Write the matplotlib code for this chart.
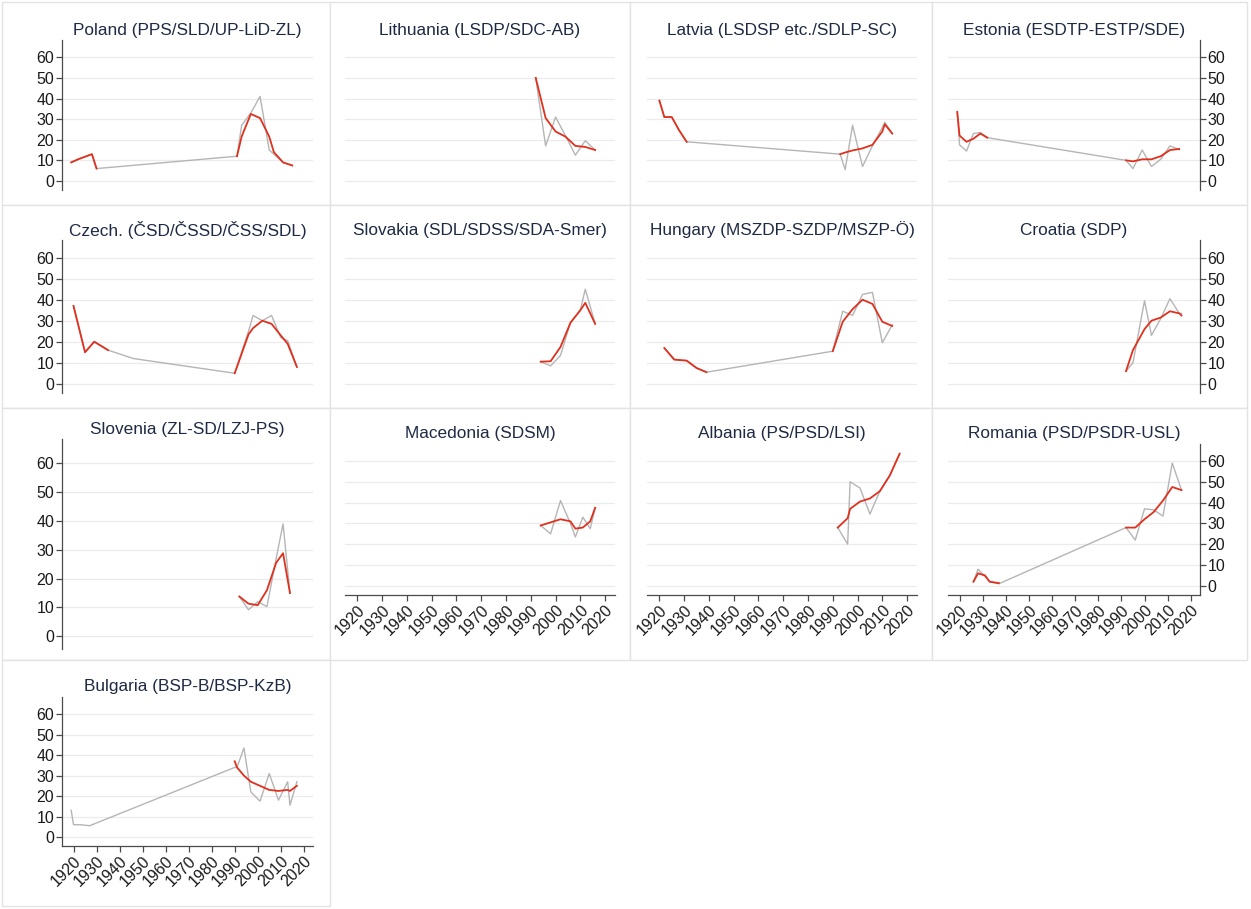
import numpy as np
import matplotlib
matplotlib.use("Agg")
import matplotlib.pyplot as plt
from matplotlib.patches import Rectangle

# line colours
stata_red = "#e0301e"
light_gray = "#b5b5b5"
grid_gray = "#ebebeb"
axis_gray = "#4a4a4a"
title_navy = "#1e2a44"

plt.rcParams["font.family"] = ["Liberation Sans", "DejaVu Sans"]

# vote share (gray) and smoothed share (red), by election year
poland_years = [1919, 1922, 1928, 1930, 1991, 1993, 1997, 2001, 2005, 2007, 2011, 2015]
poland_share = [9, 10.5, 13, 6, 12, 27, 33, 41, 15, 13, 9, 7.5]
poland_smooth = [9, 10.5, 13, 6, 12, 21.5, 32.5, 30.5, 21.5, 14, 9, 7.5]

lithuania_years = [1992, 1996, 2000, 2004, 2008, 2012, 2016]
lithuania_share = [50, 17, 31, 22, 12.5, 19.5, 15]
lithuania_smooth = [50, 30.5, 24, 21.5, 17, 16.5, 15]

latvia_years = [1920, 1922, 1925, 1928, 1931, 1993, 1995, 1998, 2002, 2006, 2010, 2011, 2014]
latvia_share = [39, 31, 31, 24.5, 19, 13, 5.5, 27, 7, 17, 26, 28.5, 23]
latvia_smooth = [39, 31, 31, 24.5, 19, 13, 13.8, 14.8, 15.8, 17.5, 24, 27.5, 23]

estonia_years = [1919, 1920, 1923, 1926, 1929, 1932, 1992, 1995, 1999, 2003, 2007, 2011, 2015]
estonia_share = [33.5, 17.5, 14.5, 23, 23.5, 21, 10, 6, 15, 7, 10.5, 17, 15.2]
estonia_smooth = [33.5, 22, 19, 20.5, 23, 21, 10, 9.5, 10.5, 10.5, 12, 15, 15.5]

czech_years = [1920, 1925, 1929, 1935, 1946, 1990, 1996, 1998, 2002, 2006, 2010, 2013, 2017]
czech_share = [37, 15, 20, 16, 12, 5, 25, 32.5, 30, 32.5, 22, 20.5, 8]
czech_smooth = [37, 15, 20, 16, None, 5, 23.5, 26.5, 30, 28.5, 23, 19, 8]

slovakia_years = [1994, 1998, 2002, 2006, 2010, 2012, 2016]
slovakia_share = [10.5, 8.5, 13.5, 29, 35, 45, 28.5]
slovakia_smooth = [10.5, 10.7, 17.5, 29, 35, 38.5, 28.5]

hungary_years = [1922, 1926, 1931, 1935, 1939, 1990, 1994, 1998, 2002, 2006, 2010, 2014]
hungary_share = [17, 11.5, 11, 7.5, 5.5, 15.5, 34.5, 32.5, 42.5, 43.5, 19.5, 28]
hungary_smooth = [17, 11.5, 11, 7.5, 5.5, 15.5, 29.5, 35.5, 40, 38, 29.5, 27.5]

croatia_years = [1992, 1995, 2000, 2003, 2007, 2011, 2015, 2016]
croatia_share = [6, 10, 39.5, 23, 31, 40.5, 33.5, 33.5]
croatia_smooth = [6, 16, 26, 30, 31.5, 34.5, 33.5, 32.5]

slovenia_years = [1992, 1996, 2000, 2004, 2008, 2011, 2014]
slovenia_share = [13.8, 9.2, 12, 10.3, 27, 39, 15]
slovenia_smooth = [13.8, 11.3, 10.8, 16, 25.5, 28.8, 15]

macedonia_years = [1994, 1998, 2002, 2006, 2008, 2011, 2014, 2016]
macedonia_share = [29, 25, 41, 30, 23.5, 33, 27.5, 37.5]
macedonia_smooth = [29, 30.5, 32, 31, 27.5, 28, 31, 37.5]

albania_years = [1992, 1996, 1997, 2001, 2005, 2009, 2013, 2017]
albania_share = [28, 20, 50, 47, 34.5, 45.5, 53, 63.5]
albania_smooth = [28, 32.5, 37, 40.5, 42, 45.5, 53, 63.5]

romania_years = [1926, 1928, 1931, 1933, 1937, 1992, 1996, 2000, 2004, 2008, 2012, 2016]
romania_share = [2, 8, 4.5, 2, 1, 28, 22, 37, 36.5, 33.5, 59, 46]
romania_smooth = [2, 6, 5, 2, 1.3, 28, 28, 32, 35.5, 41, 47.5, 46]

bulgaria_years = [1919, 1920, 1923, 1927, 1990, 1991, 1994, 1997, 2001, 2005, 2009, 2013, 2014, 2017]
bulgaria_share = [13, 6, 6, 5.5, 34, 34, 43.5, 22, 17.5, 31, 18, 27, 15.5, 27]
bulgaria_smooth = [None, None, None, None, 37, 34, 30, 27, 25, 23, 22.5, 23, 22.5, 25]

y_ticks = [0, 10, 20, 30, 40, 50, 60]
x_ticks = list(range(1920, 2030, 10))

W, H = 1251, 909

# panel boxes in pixels: left, top, right, bottom
col_x = [(62, 313), (345, 615), (647, 917), (948, 1200)]
row_y = [(40, 190), (240, 393), (443.5, 595)]

panels = [
    ("Poland (PPS/SLD/UP-LiD-ZL)", poland_years, poland_share, poland_smooth, 0, 0),
    ("Lithuania (LSDP/SDC-AB)", lithuania_years, lithuania_share, lithuania_smooth, 0, 1),
    ("Latvia (LSDSP etc./SDLP-SC)", latvia_years, latvia_share, latvia_smooth, 0, 2),
    ("Estonia (ESDTP-ESTP/SDE)", estonia_years, estonia_share, estonia_smooth, 0, 3),
    ("Czech. (ČSD/ČSSD/ČSS/SDL)", czech_years, czech_share, czech_smooth, 1, 0),
    ("Slovakia (SDL/SDSS/SDA-Smer)", slovakia_years, slovakia_share, slovakia_smooth, 1, 1),
    ("Hungary (MSZDP-SZDP/MSZP-Ö)", hungary_years, hungary_share, hungary_smooth, 1, 2),
    ("Croatia (SDP)", croatia_years, croatia_share, croatia_smooth, 1, 3),
    ("Slovenia (ZL-SD/LZJ-PS)", slovenia_years, slovenia_share, slovenia_smooth, 2, 0),
    ("Macedonia (SDSM)", macedonia_years, macedonia_share, macedonia_smooth, 2, 1),
    ("Albania (PS/PSD/LSI)", albania_years, albania_share, albania_smooth, 2, 2),
    ("Romania (PSD/PSDR-USL)", romania_years, romania_share, romania_smooth, 2, 3),
    ("Bulgaria (BSP-B/BSP-KzB)", bulgaria_years, bulgaria_share, bulgaria_smooth, 3, 0),
]


def panel_box(row, col):
    left, right = col_x[col]
    if row == 3:
        top, bottom = 697, 846
    elif row == 2 and col == 0:
        top, bottom = 439, 649
    else:
        top, bottom = row_y[row]
    return left, top, right, bottom


def with_gaps(years, values):
    # break the smoothed line between periods
    x = np.array(years, dtype=float)
    y = np.array([np.nan if v is None else v for v in values], dtype=float)
    gaps = np.where(np.diff(x) > 20)[0] + 1
    return np.insert(x, gaps, np.nan), np.insert(y, gaps, np.nan)


fig = plt.figure(figsize=(W / 100, H / 100), dpi=100)
fig.patch.set_facecolor("white")

# cell frames, kept behind the panels
frame_ax = fig.add_axes([0, 0, 1, 1], zorder=-5)
frame_ax.set_xlim(0, W)
frame_ax.set_ylim(H, 0)
frame_ax.axis("off")
cells = [(2, 2, 330, 205), (330, 2, 630, 205), (630, 2, 932, 205), (932, 2, 1247, 205),
         (2, 205, 330, 408), (330, 205, 630, 408), (630, 205, 932, 408), (932, 205, 1247, 408),
         (2, 408, 330, 660), (330, 408, 630, 660), (630, 408, 932, 660), (932, 408, 1247, 660),
         (2, 660, 330, 906)]
for l, t, r, b in cells:
    frame_ax.add_patch(Rectangle((l, t), r - l, b - t, facecolor="white",
                                 edgecolor="#e3e3e3", linewidth=1.0))

for title, years, share, smooth, row, col in panels:
    left, top, right, bottom = panel_box(row, col)
    ax = fig.add_axes([left / W, 1 - bottom / H, (right - left) / W, (bottom - top) / H])
    ax.set_facecolor("none")
    ax.set_xlim(1915, 2024)
    ax.set_ylim(-4.4, 68.4)

    for g in y_ticks:
        ax.axhline(g, color=grid_gray, linewidth=0.9, zorder=1)

    ax.plot(years, share, color=light_gray, linewidth=1.0, zorder=2)
    sx, sy = with_gaps(years, smooth)
    ax.plot(sx, sy, color=stata_red, linewidth=1.3, zorder=3)

    for side in ["top", "right", "left", "bottom"]:
        ax.spines[side].set_visible(False)
        ax.spines[side].set_color(axis_gray)
        ax.spines[side].set_linewidth(0.9)

    ax.set_yticks(y_ticks)
    ax.set_xticks(x_ticks)
    ax.tick_params(length=4, width=0.9, color=axis_gray, labelsize=11.5,
                   labelcolor="#1a1a1a", pad=1.5)

    if col == 0:
        ax.spines["left"].set_visible(True)
        ax.tick_params(axis="y", left=True, labelleft=True, right=False, labelright=False)
    elif col == 3:
        ax.spines["right"].set_visible(True)
        ax.tick_params(axis="y", left=False, labelleft=False, right=True, labelright=True)
    else:
        ax.tick_params(axis="y", left=False, labelleft=False)

    bottom_of_column = (col == 0 and row == 3) or (col > 0 and row == 2)
    if bottom_of_column:
        ax.spines["bottom"].set_visible(True)
        ax.tick_params(axis="x", bottom=True, labelbottom=True)
        plt.setp(ax.get_xticklabels(), rotation=45, ha="right", va="top",
                 rotation_mode="anchor")
    else:
        ax.tick_params(axis="x", bottom=False, labelbottom=False)

    fig.text((left + right) / 2 / W, 1 - (top - 10) / H, title, ha="center",
             va="center", fontsize=12.4, color=title_navy)

fig.savefig("out.png", dpi=100, facecolor="white")
